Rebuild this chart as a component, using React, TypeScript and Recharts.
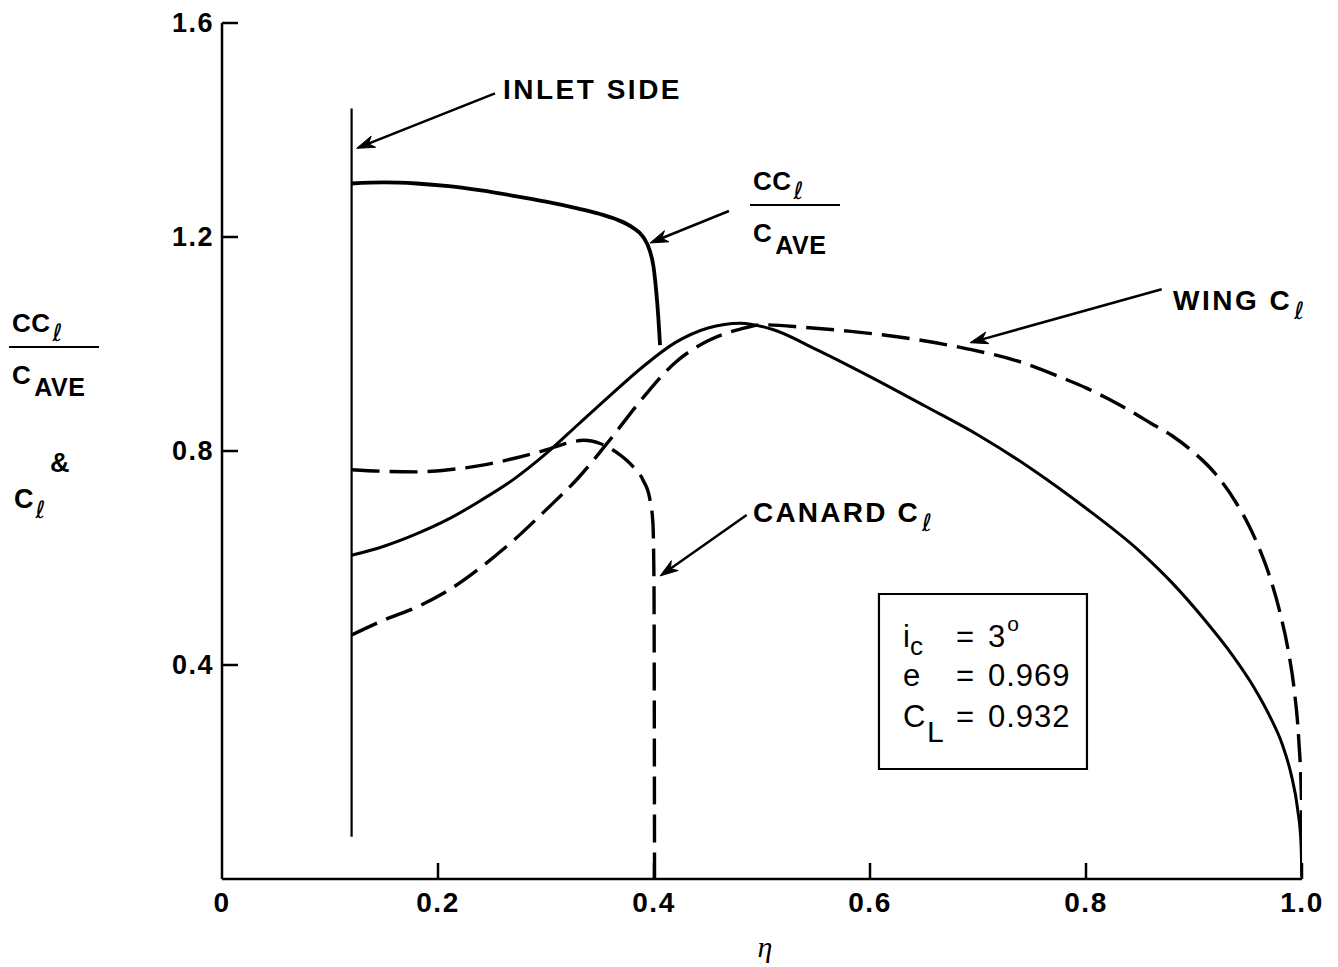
import React from 'react';
import { LineChart, Line, XAxis, YAxis, ReferenceLine, ReferenceDot, ReferenceArea } from 'recharts';

// ---- axis ticks ----
const xTicks = [0, 0.2, 0.4, 0.6, 0.8, 1.0];
const yTicks = [0.4, 0.8, 1.2, 1.6];

// ---- series: [eta, value] ----
const canardSpanload = [
  [0.12, 1.300], [0.15, 1.302], [0.18, 1.300], [0.21, 1.295], [0.24, 1.287], [0.27, 1.277],
  [0.30, 1.266], [0.33, 1.253], [0.35, 1.243], [0.365, 1.233], [0.38, 1.218], [0.39, 1.200],
  [0.396, 1.175], [0.3995, 1.145], [0.402, 1.100], [0.404, 1.050], [0.4056, 0.998],
];

const wingSpanload = [
  [0.12, 0.605], [0.15, 0.622], [0.18, 0.645], [0.21, 0.673], [0.24, 0.708], [0.27, 0.747],
  [0.30, 0.795], [0.33, 0.850], [0.36, 0.905], [0.39, 0.958], [0.42, 1.003], [0.45, 1.030],
  [0.48, 1.039], [0.51, 1.027], [0.55, 0.990], [0.60, 0.939], [0.65, 0.885], [0.70, 0.830],
  [0.75, 0.766], [0.80, 0.693], [0.85, 0.612], [0.88, 0.553], [0.91, 0.484], [0.935, 0.420],
  [0.955, 0.360], [0.97, 0.305], [0.982, 0.250], [0.99, 0.195], [0.996, 0.130], [0.999, 0.070],
  [1.0, 0],
];

const wingCl = [
  [0.12, 0.456], [0.15, 0.484], [0.18, 0.508], [0.21, 0.540], [0.24, 0.583], [0.27, 0.633],
  [0.30, 0.690], [0.33, 0.750], [0.36, 0.823], [0.39, 0.900], [0.42, 0.966], [0.45, 1.006],
  [0.48, 1.028], [0.50, 1.036], [0.54, 1.031], [0.58, 1.024], [0.62, 1.015], [0.65, 1.006],
  [0.69, 0.991], [0.74, 0.966], [0.78, 0.935], [0.80, 0.918], [0.82, 0.898], [0.84, 0.876],
  [0.86, 0.852], [0.88, 0.828], [0.90, 0.797], [0.92, 0.757], [0.94, 0.700], [0.95, 0.664],
  [0.96, 0.620], [0.97, 0.566], [0.98, 0.495], [0.987, 0.430], [0.993, 0.350], [0.997, 0.260],
  [0.9995, 0.150], [1.0, 0],
];

const canardCl = [
  [0.12, 0.765], [0.15, 0.762], [0.18, 0.761], [0.21, 0.765], [0.24, 0.773], [0.27, 0.786],
  [0.30, 0.802], [0.32, 0.815], [0.335, 0.820], [0.35, 0.814], [0.365, 0.798], [0.38, 0.772],
  [0.39, 0.745], [0.396, 0.712], [0.399, 0.665], [0.4, 0.55], [0.4005, 0],
];

const inletSide = [[0.12, 0.079], [0.12, 1.44]];

// ---- annotations (data coordinates) ----
const inletLabelPos = [0.2602, 1.458];
const inletArrow = [[0.2528, 1.4686], [0.1247, 1.3657]];
const ccLabelPos = [0.4889, 1.2598];
const ccArrow = [[0.4694, 1.2486], [0.3963, 1.1888]];
const wingLabelPos = [0.8806, 1.0636];
const wingArrow = [[0.8701, 1.1022], [0.6926, 1.0024]];
const canardLabelPos = [0.4917, 0.6673];
const canardArrow = [[0.4858, 0.6804], [0.4056, 0.5664]];
const boxX = [0.6083, 0.8009];
const boxY = [0.2056, 0.5327];
const boxLines = [
  { sym: 'i', sub: 'c', val: '3', sup: 'o' },
  { sym: 'e', sub: '', val: '0.969', sup: '' },
  { sym: 'C', sub: 'L', val: '0.932', sup: '' },
];
const yLabelPos = [-0.1972, 0.9944];
const xLabelPos = [0.5028, -0.1458];

const toPts = (a: number[][]) => a.map(([x, y]) => ({ x, y }));

const SANS = 'Liberation Sans, Arial, Helvetica, sans-serif';
const ELL = 'DejaVu Sans, sans-serif';

const XTick = (props: any) => {
  const { x, y, payload } = props;
  const v = payload.value as number;
  return (
    <g>
      {v !== 0 && <line x1={x} y1={y} x2={x} y2={y - 16} stroke="#000" strokeWidth={2.5} />}
      <text x={x} y={y + 33} textAnchor="middle" fontFamily={SANS} fontWeight="bold" fontSize={28} letterSpacing={1.5} fill="#000">
        {v === 0 ? '0' : v.toFixed(1)}
      </text>
    </g>
  );
};

const YTick = (props: any) => {
  const { x, y, payload } = props;
  const v = payload.value as number;
  return (
    <g>
      <line x1={x} y1={y} x2={x + 16} y2={y} stroke="#000" strokeWidth={2.5} />
      <text x={x - 8} y={y + 9} textAnchor="end" fontFamily={SANS} fontWeight="bold" fontSize={27} letterSpacing={1.5} fill="#000">
        {v.toFixed(1)}
      </text>
    </g>
  );
};

const Arrow = (props: any) => {
  const { x1, y1, x2, y2 } = props;
  const ang = Math.atan2(y2 - y1, x2 - x1);
  const c = Math.cos(ang), s = Math.sin(ang);
  const L = 18, W = 6;
  const bx = x2 - L * c, by = y2 - L * s;
  const nx = x2 - 0.7 * L * c, ny = y2 - 0.7 * L * s;
  const pts = [
    [x2, y2],
    [bx + W * s, by - W * c],
    [nx, ny],
    [bx - W * s, by + W * c],
  ].map((p) => p.join(',')).join(' ');
  return (
    <g>
      <line x1={x1} y1={y1} x2={nx} y2={ny} stroke="#000" strokeWidth={2.5} />
      <polygon points={pts} fill="#000" stroke="#000" strokeWidth={1} />
    </g>
  );
};

const Ell = ({ dy }: { dy: number }) => (
  <tspan dx={2} dy={dy} fontFamily={ELL} fontWeight="normal" fontSize={24}>ℓ</tspan>
);

const Fraction = ({ cx, cy }: { cx: number; cy: number }) => (
  <g fill="#000">
    <text x={cx + 3} y={cy - 15} fontFamily={SANS} fontWeight="bold" fontSize={26} letterSpacing={0.5}>
      CC<Ell dy={9} />
    </text>
    <line x1={cx} y1={cy} x2={cx + 90} y2={cy} stroke="#000" strokeWidth={2} />
    <text x={cx + 3} y={cy + 37} fontFamily={SANS} fontWeight="bold" fontSize={26} letterSpacing={0.5}>
      C<tspan dx={3} dy={12} fontSize={25}>AVE</tspan>
    </text>
  </g>
);

const InletLabel = (p: any) => (
  <text x={p.cx} y={p.cy} fontFamily={SANS} fontWeight="bold" fontSize={28} letterSpacing={2.5} fill="#000">INLET SIDE</text>
);

const CcLabel = (p: any) => <Fraction cx={p.cx} cy={p.cy} />;

const WingLabel = (p: any) => (
  <text x={p.cx} y={p.cy} fontFamily={SANS} fontWeight="bold" fontSize={28} letterSpacing={2.5} fill="#000">
    WING C<Ell dy={9} />
  </text>
);

const CanardLabel = (p: any) => (
  <text x={p.cx} y={p.cy} fontFamily={SANS} fontWeight="bold" fontSize={28} letterSpacing={2.2} fill="#000">
    CANARD C<Ell dy={9} />
  </text>
);

const BoxText = (p: any) => {
  const { cx, cy } = p;
  const rows = [53, 92, 133];
  return (
    <g fill="#000" fontFamily={SANS} fontSize={31}>
      {boxLines.map((r, i) => (
        <g key={i}>
          <text x={cx + 24} y={cy + rows[i]}>{r.sym}</text>
          {r.sub && (
            <text x={cx + (r.sym === 'C' ? 48 : 31)} y={cy + rows[i] + (r.sym === 'C' ? 15 : 8)} fontSize={r.sym === 'C' ? 30 : 26}>
              {r.sub}
            </text>
          )}
          <text x={cx + 77} y={cy + rows[i]}>=</text>
          <text x={cx + 109} y={cy + rows[i]} letterSpacing={1}>
            {r.val}
            {r.sup && <tspan dx={1} dy={-16} fontSize={21}>{r.sup}</tspan>}
          </text>
        </g>
      ))}
    </g>
  );
};

const YLabel = (p: any) => {
  const { cx, cy } = p;
  return (
    <g fill="#000">
      <Fraction cx={cx} cy={cy} />
      <text x={cx + 41} y={cy + 125} fontFamily={SANS} fontWeight="bold" fontSize={27}>&amp;</text>
      <text x={cx + 5} y={cy + 161} fontFamily={SANS} fontWeight="bold" fontSize={27}>
        C<Ell dy={10} />
      </text>
    </g>
  );
};

const XLabel = (p: any) => (
  <text x={p.cx} y={p.cy} textAnchor="middle" fontFamily="Liberation Serif, DejaVu Serif, serif" fontStyle="italic" fontSize={30} fill="#000">η</text>
);

const seg = (a: number[][]) => [{ x: a[0][0], y: a[0][1] }, { x: a[1][0], y: a[1][1] }];

export default function App() {
  return (
    <div style={{ position: 'absolute', left: 0, top: 0, width: 1338, height: 967, background: '#fff' }}>
      <LineChart width={1338} height={967} margin={{ top: 23, right: 36, bottom: 48, left: 162 }}>
        <XAxis
          type="number"
          dataKey="x"
          domain={[0, 1]}
          ticks={xTicks}
          interval={0}
          height={40}
          tickLine={false}
          tickSize={0}
          tickMargin={0}
          axisLine={{ stroke: '#000', strokeWidth: 2.5 }}
          tick={<XTick />}
          allowDataOverflow
        />
        <YAxis
          type="number"
          dataKey="y"
          domain={[0, 1.6]}
          ticks={yTicks}
          interval={0}
          width={60}
          tickLine={false}
          tickSize={0}
          tickMargin={0}
          axisLine={{ stroke: '#000', strokeWidth: 2.5 }}
          tick={<YTick />}
          allowDataOverflow
        />
        <Line data={toPts(inletSide)} dataKey="y" type="linear" stroke="#000" strokeWidth={2.2} dot={false} activeDot={false} isAnimationActive={false} />
        <Line data={toPts(canardSpanload)} dataKey="y" type="monotone" stroke="#000" strokeWidth={3.8} dot={false} activeDot={false} isAnimationActive={false} />
        <Line data={toPts(wingSpanload)} dataKey="y" type="monotone" stroke="#000" strokeWidth={3} dot={false} activeDot={false} isAnimationActive={false} />
        <Line data={toPts(wingCl)} dataKey="y" type="monotone" stroke="#000" strokeWidth={3.4} strokeDasharray="28 10" dot={false} activeDot={false} isAnimationActive={false} />
        <Line data={toPts(canardCl)} dataKey="y" type="monotone" stroke="#000" strokeWidth={3.4} strokeDasharray="28 10" dot={false} activeDot={false} isAnimationActive={false} />

        <ReferenceArea x1={boxX[0]} x2={boxX[1]} y1={boxY[0]} y2={boxY[1]} fill="none" fillOpacity={0} stroke="#000" strokeWidth={2.2} ifOverflow="visible" />

        <ReferenceLine segment={seg(inletArrow)} shape={Arrow} ifOverflow="visible" />
        <ReferenceLine segment={seg(ccArrow)} shape={Arrow} ifOverflow="visible" />
        <ReferenceLine segment={seg(wingArrow)} shape={Arrow} ifOverflow="visible" />
        <ReferenceLine segment={seg(canardArrow)} shape={Arrow} ifOverflow="visible" />

        <ReferenceDot x={inletLabelPos[0]} y={inletLabelPos[1]} r={1} shape={InletLabel} ifOverflow="visible" />
        <ReferenceDot x={ccLabelPos[0]} y={ccLabelPos[1]} r={1} shape={CcLabel} ifOverflow="visible" />
        <ReferenceDot x={wingLabelPos[0]} y={wingLabelPos[1]} r={1} shape={WingLabel} ifOverflow="visible" />
        <ReferenceDot x={canardLabelPos[0]} y={canardLabelPos[1]} r={1} shape={CanardLabel} ifOverflow="visible" />
        <ReferenceDot x={boxX[0]} y={boxY[1]} r={1} shape={BoxText} ifOverflow="visible" />
        <ReferenceDot x={yLabelPos[0]} y={yLabelPos[1]} r={1} shape={YLabel} ifOverflow="visible" />
        <ReferenceDot x={xLabelPos[0]} y={xLabelPos[1]} r={1} shape={XLabel} ifOverflow="visible" />
      </LineChart>
    </div>
  );
}
